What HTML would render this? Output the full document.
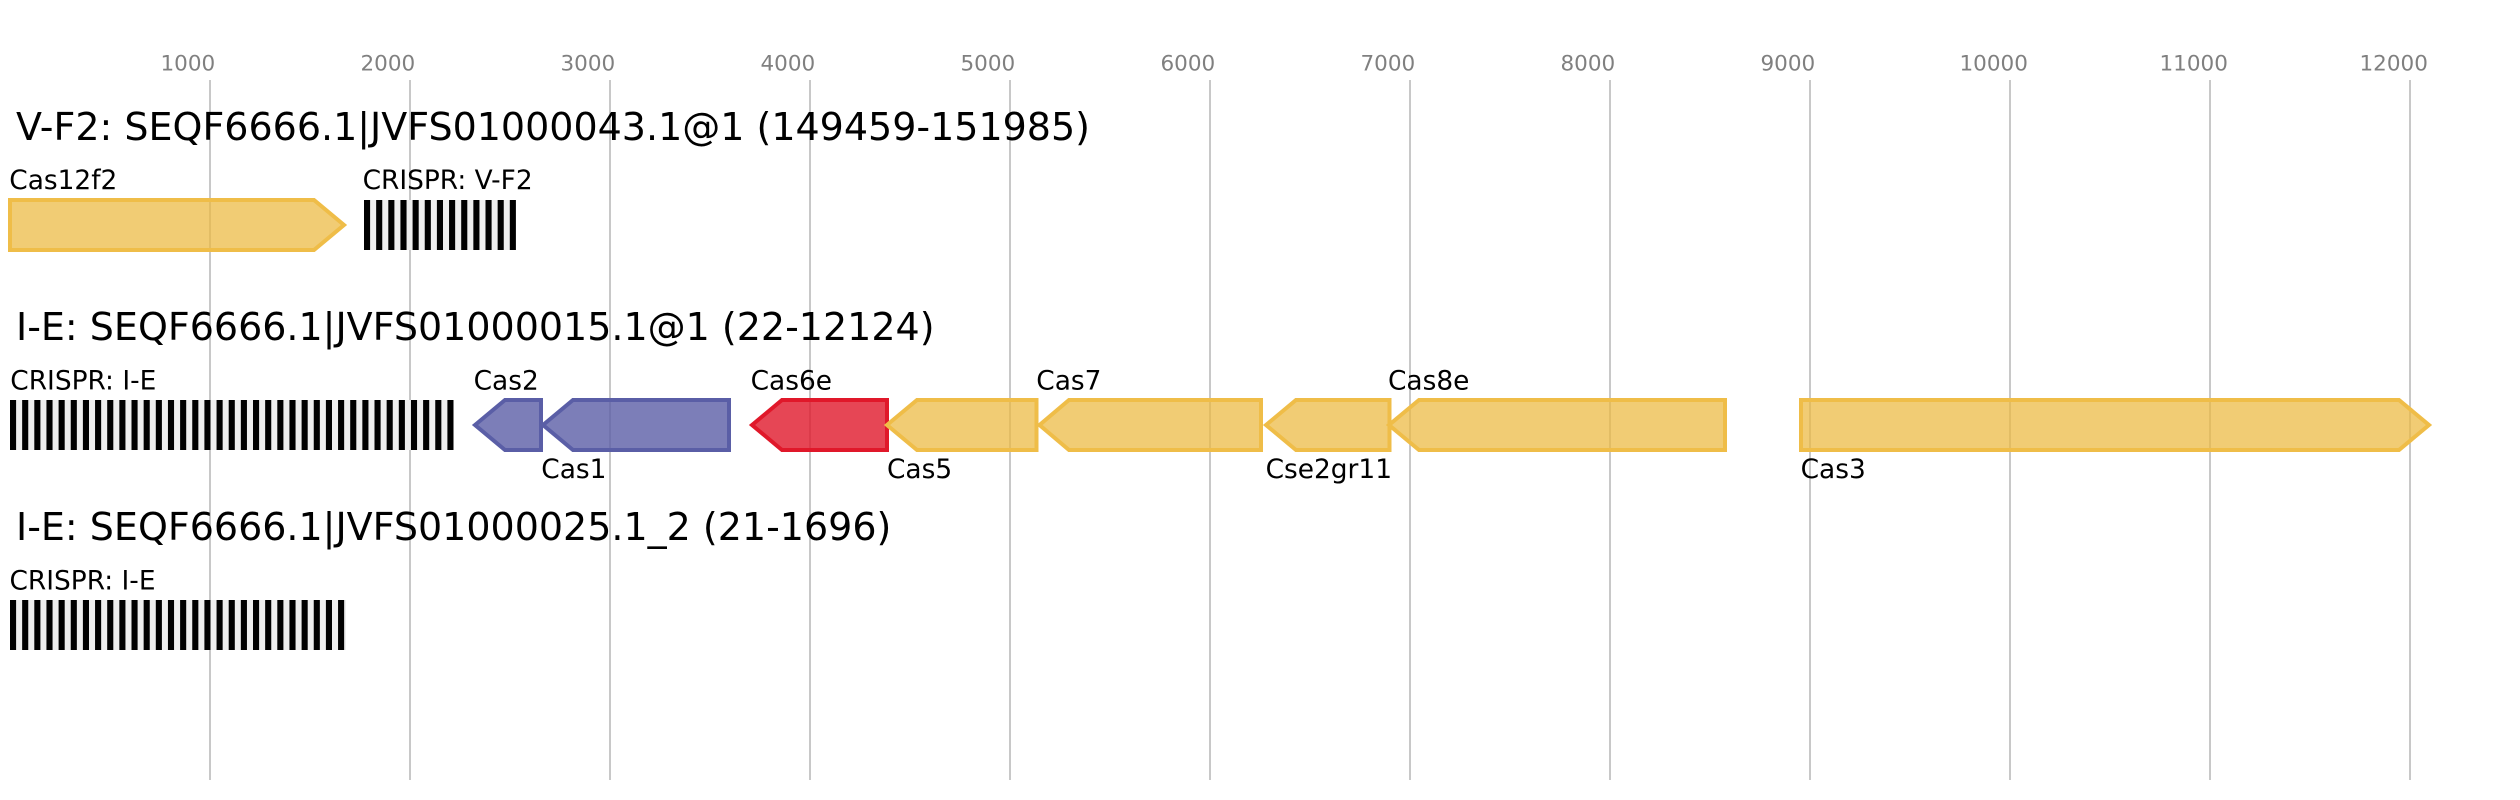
<!DOCTYPE html>
<html>
<head>
<meta charset="utf-8">
<style>
  html,body{margin:0;padding:0;background:#fff;}
  svg{display:block;}
  text{font-family:"DejaVu Sans","Liberation Sans",sans-serif;}
</style>
</head>
<body>
<svg width="2520" height="800" viewBox="0 0 2520 800" xmlns="http://www.w3.org/2000/svg">
  <rect width="2520" height="800" fill="#fff"/>
  <!-- grid lines -->
  <g stroke="#bbbbbb" stroke-width="1.6">
    <line x1="210" y1="80" x2="210" y2="780"/>
    <line x1="410" y1="80" x2="410" y2="780"/>
    <line x1="610" y1="80" x2="610" y2="780"/>
    <line x1="810" y1="80" x2="810" y2="780"/>
    <line x1="1010" y1="80" x2="1010" y2="780"/>
    <line x1="1210" y1="80" x2="1210" y2="780"/>
    <line x1="1410" y1="80" x2="1410" y2="780"/>
    <line x1="1610" y1="80" x2="1610" y2="780"/>
    <line x1="1810" y1="80" x2="1810" y2="780"/>
    <line x1="2010" y1="80" x2="2010" y2="780"/>
    <line x1="2210" y1="80" x2="2210" y2="780"/>
    <line x1="2410" y1="80" x2="2410" y2="780"/>
  </g>
  <!-- tick labels -->
  <g font-size="21.5" fill="#808080">
    <text x="160.5" y="70.5">1000</text>
    <text x="360.5" y="70.5">2000</text>
    <text x="560.5" y="70.5">3000</text>
    <text x="760.5" y="70.5">4000</text>
    <text x="960.5" y="70.5">5000</text>
    <text x="1160.5" y="70.5">6000</text>
    <text x="1360.5" y="70.5">7000</text>
    <text x="1560.5" y="70.5">8000</text>
    <text x="1760.5" y="70.5">9000</text>
    <text x="1959.5" y="70.5">10000</text>
    <text x="2159.5" y="70.5">11000</text>
    <text x="2359.5" y="70.5">12000</text>
  </g>

  <!-- titles -->
  <g font-size="38" fill="#000">
    <text x="16" y="140">V-F2: SEQF6666.1|JVFS01000043.1@1 (149459-151985)</text>
    <text x="16" y="340">I-E: SEQF6666.1|JVFS01000015.1@1 (22-12124)</text>
    <text x="16" y="540">I-E: SEQF6666.1|JVFS01000025.1_2 (21-1696)</text>
  </g>

  <!-- Row 1 -->
  <polygon points="10,200 314,200 344,225 314,250 10,250" fill="rgba(236,184,62,0.72)" stroke="#efbd48" stroke-width="4"/>
  <rect x="364" y="200" width="152" height="50" fill="#eeeeee"/>

  <!-- Row 2 genes -->
  <g stroke-width="4">
    <polygon points="475,425 505,400 541,400 541,450 505,450" fill="rgba(91,94,166,0.8)" stroke="#5a5ea6"/>
    <polygon points="543,425 573,400 729,400 729,450 573,450" fill="rgba(91,94,166,0.8)" stroke="#5a5ea6"/>
    <polygon points="752,425 782,400 887,400 887,450 782,450" fill="rgba(224,24,42,0.8)" stroke="#e0182a"/>
    <polygon points="887,425 917,400 1036.5,400 1036.5,450 917,450" fill="rgba(236,184,62,0.72)" stroke="#efbd48"/>
    <polygon points="1039.5,425 1069,400 1261,400 1261,450 1069,450" fill="rgba(236,184,62,0.72)" stroke="#efbd48"/>
    <polygon points="1266,425 1296,400 1389.5,400 1389.5,450 1296,450" fill="rgba(236,184,62,0.72)" stroke="#efbd48"/>
    <polygon points="1389,425 1419,400 1725,400 1725,450 1419,450" fill="rgba(236,184,62,0.72)" stroke="#efbd48"/>
    <polygon points="1801,400 2399,400 2429,425 2399,450 1801,450" fill="rgba(236,184,62,0.72)" stroke="#efbd48"/>
  </g>
  <rect x="10" y="400" width="443" height="50" fill="#eeeeee"/>
  <rect x="10" y="600" width="336" height="50" fill="#eeeeee"/>

  <!-- CRISPR bars -->
  <g fill="#000">
    <!-- row 1: 13 bars from 364 -->
    <rect x="364.00" y="200" width="6.1" height="50"/>
    <rect x="376.15" y="200" width="6.1" height="50"/>
    <rect x="388.30" y="200" width="6.1" height="50"/>
    <rect x="400.45" y="200" width="6.1" height="50"/>
    <rect x="412.60" y="200" width="6.1" height="50"/>
    <rect x="424.75" y="200" width="6.1" height="50"/>
    <rect x="436.90" y="200" width="6.1" height="50"/>
    <rect x="449.05" y="200" width="6.1" height="50"/>
    <rect x="461.20" y="200" width="6.1" height="50"/>
    <rect x="473.35" y="200" width="6.1" height="50"/>
    <rect x="485.50" y="200" width="6.1" height="50"/>
    <rect x="497.65" y="200" width="6.1" height="50"/>
    <rect x="509.80" y="200" width="6.1" height="50"/>
    <!-- row 2: 37 bars from 10 -->
    <rect x="10.00" y="400" width="6.1" height="50"/>
    <rect x="22.15" y="400" width="6.1" height="50"/>
    <rect x="34.30" y="400" width="6.1" height="50"/>
    <rect x="46.45" y="400" width="6.1" height="50"/>
    <rect x="58.60" y="400" width="6.1" height="50"/>
    <rect x="70.75" y="400" width="6.1" height="50"/>
    <rect x="82.90" y="400" width="6.1" height="50"/>
    <rect x="95.05" y="400" width="6.1" height="50"/>
    <rect x="107.20" y="400" width="6.1" height="50"/>
    <rect x="119.35" y="400" width="6.1" height="50"/>
    <rect x="131.50" y="400" width="6.1" height="50"/>
    <rect x="143.65" y="400" width="6.1" height="50"/>
    <rect x="155.80" y="400" width="6.1" height="50"/>
    <rect x="167.95" y="400" width="6.1" height="50"/>
    <rect x="180.10" y="400" width="6.1" height="50"/>
    <rect x="192.25" y="400" width="6.1" height="50"/>
    <rect x="204.40" y="400" width="6.1" height="50"/>
    <rect x="216.55" y="400" width="6.1" height="50"/>
    <rect x="228.70" y="400" width="6.1" height="50"/>
    <rect x="240.85" y="400" width="6.1" height="50"/>
    <rect x="253.00" y="400" width="6.1" height="50"/>
    <rect x="265.15" y="400" width="6.1" height="50"/>
    <rect x="277.30" y="400" width="6.1" height="50"/>
    <rect x="289.45" y="400" width="6.1" height="50"/>
    <rect x="301.60" y="400" width="6.1" height="50"/>
    <rect x="313.75" y="400" width="6.1" height="50"/>
    <rect x="325.90" y="400" width="6.1" height="50"/>
    <rect x="338.05" y="400" width="6.1" height="50"/>
    <rect x="350.20" y="400" width="6.1" height="50"/>
    <rect x="362.35" y="400" width="6.1" height="50"/>
    <rect x="374.50" y="400" width="6.1" height="50"/>
    <rect x="386.65" y="400" width="6.1" height="50"/>
    <rect x="398.80" y="400" width="6.1" height="50"/>
    <rect x="410.95" y="400" width="6.1" height="50"/>
    <rect x="423.10" y="400" width="6.1" height="50"/>
    <rect x="435.25" y="400" width="6.1" height="50"/>
    <rect x="447.40" y="400" width="6.1" height="50"/>
    <!-- row 3: 28 bars from 10 -->
    <rect x="10.00" y="600" width="6.1" height="50"/>
    <rect x="22.15" y="600" width="6.1" height="50"/>
    <rect x="34.30" y="600" width="6.1" height="50"/>
    <rect x="46.45" y="600" width="6.1" height="50"/>
    <rect x="58.60" y="600" width="6.1" height="50"/>
    <rect x="70.75" y="600" width="6.1" height="50"/>
    <rect x="82.90" y="600" width="6.1" height="50"/>
    <rect x="95.05" y="600" width="6.1" height="50"/>
    <rect x="107.20" y="600" width="6.1" height="50"/>
    <rect x="119.35" y="600" width="6.1" height="50"/>
    <rect x="131.50" y="600" width="6.1" height="50"/>
    <rect x="143.65" y="600" width="6.1" height="50"/>
    <rect x="155.80" y="600" width="6.1" height="50"/>
    <rect x="167.95" y="600" width="6.1" height="50"/>
    <rect x="180.10" y="600" width="6.1" height="50"/>
    <rect x="192.25" y="600" width="6.1" height="50"/>
    <rect x="204.40" y="600" width="6.1" height="50"/>
    <rect x="216.55" y="600" width="6.1" height="50"/>
    <rect x="228.70" y="600" width="6.1" height="50"/>
    <rect x="240.85" y="600" width="6.1" height="50"/>
    <rect x="253.00" y="600" width="6.1" height="50"/>
    <rect x="265.15" y="600" width="6.1" height="50"/>
    <rect x="277.30" y="600" width="6.1" height="50"/>
    <rect x="289.45" y="600" width="6.1" height="50"/>
    <rect x="301.60" y="600" width="6.1" height="50"/>
    <rect x="313.75" y="600" width="6.1" height="50"/>
    <rect x="325.90" y="600" width="6.1" height="50"/>
    <rect x="338.05" y="600" width="6.1" height="50"/>
  </g>

  <!-- labels -->
  <g font-size="26.4" fill="#000">
    <text x="9.3" y="189">Cas12f2</text>
    <text x="362.6" y="189">CRISPR: V-F2</text>
    <text x="10.3" y="389.5">CRISPR: I-E</text>
    <text x="473.6" y="389.5">Cas2</text>
    <text x="541.3" y="478">Cas1</text>
    <text x="750.6" y="389.5">Cas6e</text>
    <text x="887" y="478">Cas5</text>
    <text x="1036.3" y="389.5">Cas7</text>
    <text x="1265.6" y="478">Cse2gr11</text>
    <text x="1388" y="389.5">Cas8e</text>
    <text x="1800.6" y="478">Cas3</text>
    <text x="9.5" y="589.5">CRISPR: I-E</text>
  </g>
</svg>
</body>
</html>
